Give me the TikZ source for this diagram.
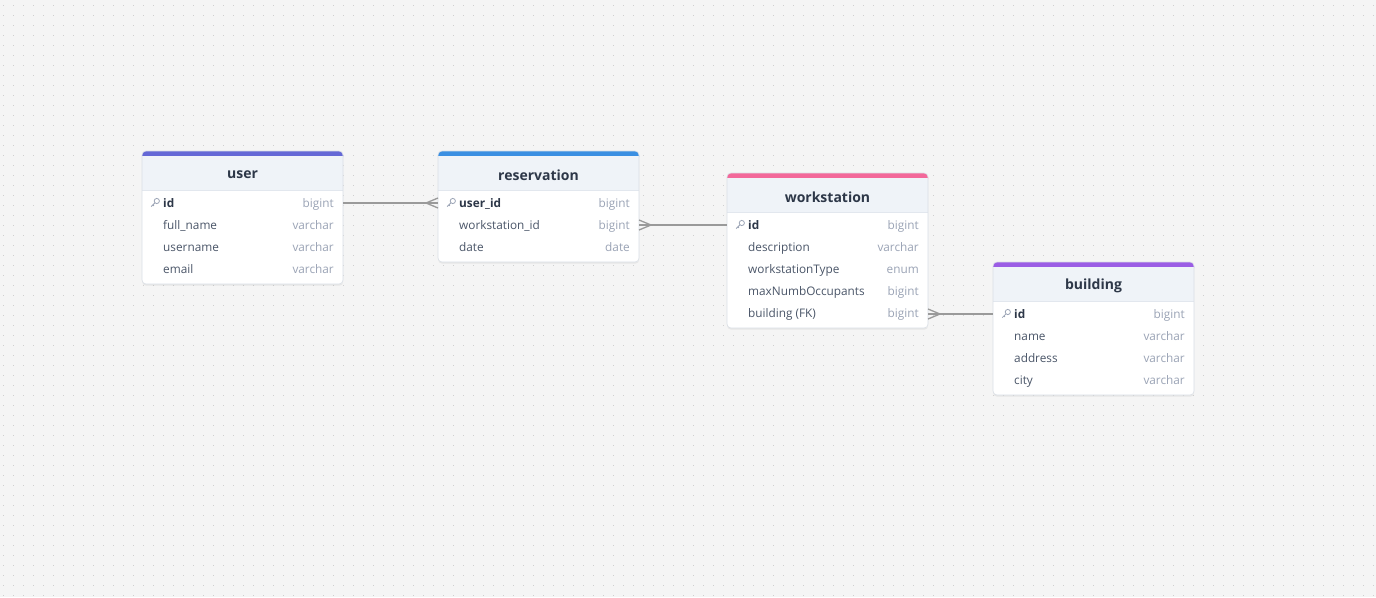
\documentclass[tikz,border=0pt]{standalone}
\usepackage{fontspec}
\setmainfont{Open Sans}
\usetikzlibrary{shadows}
\definecolor{bgcol}{HTML}{F5F5F5}
\definecolor{dotcol}{HTML}{CFCFCF}
\definecolor{headbg}{HTML}{EFF3F8}
\definecolor{bordercol}{HTML}{DADFE6}
\definecolor{sepcol}{HTML}{E2E7EE}
\definecolor{titlecol}{HTML}{2D3748}
\definecolor{fieldcol}{HTML}{4A5568}
\definecolor{typecol}{HTML}{9AA3B5}
\definecolor{linecol}{HTML}{9A9A9A}
\definecolor{usercol}{HTML}{6468D6}
\definecolor{rescol}{HTML}{3A8FE2}
\definecolor{wscol}{HTML}{F3689A}
\definecolor{bldcol}{HTML}{9B5DE5}
\tikzset{
  tablebox/.style={anchor=north west, fill=white, draw=none, rounded corners=4pt,
     minimum width=201pt, inner sep=0pt,
     drop shadow={shadow xshift=0pt, shadow yshift=-1.5pt, opacity=0.12}},
  titletext/.style={font=\fontsize{14}{16}\selectfont\bfseries, text=titlecol, inner sep=0pt},
  fieldtext/.style={anchor=west, font=\fontsize{11.8}{14}\selectfont, text=fieldcol, inner sep=0pt, text height=8.5pt, text depth=2.5pt},
  typetext/.style={anchor=east, font=\fontsize{11.8}{14}\selectfont, text=typecol, inner sep=0pt, text height=8.5pt, text depth=2.5pt},
  rel/.style={draw=linecol, line width=1.3pt},
}
\newcommand{\keyicon}[2]{%
  \draw[typecol, line width=0.8pt] (#1+2.3,-#2+2) circle (2.6pt);
  \draw[typecol, line width=0.8pt] (#1+0.5,-#2+0.2) -- (#1-3.3,-#2-3.6);
  \draw[typecol, line width=0.8pt] (#1-1.6,-#2-1.9) -- (#1-0.6,-#2-2.9);
}
\newcommand{\ertable}[7]{%
  \pgfmathsetmacro\tR{#2+201}
  \pgfmathsetmacro\tB{#3+45+22*#7}
  \node[tablebox, minimum height={45+22*#7}] (#1) at (#2,-#3) {};
  \fill[#4, rounded corners=4pt] (#2,-#3) rectangle (\tR,-#3-10);
  \fill[headbg] (#2,-#3-5) rectangle (\tR,-#3-39);
  \draw[sepcol, line width=0.8pt] (#2,-#3-39) -- (\tR,-#3-39);
  \draw[bordercol, line width=0.6pt, rounded corners=4pt] (#2,-#3) rectangle (\tR,-\tB);
  \node[titletext] (#1-title) at (#2+100.5,-#3-24) {#5};
  \foreach \f/\t/\k [count=\i] in {#6} {
    \pgfmathsetmacro\yy{#3+52+22*(\i-1)}
    \node[fieldtext] (#1-f\i) at (#2+21,-\yy-1.2) {\ifnum\k=1 \bfseries\color{titlecol}\fi\f};
    \node[typetext] (#1-t\i) at (\tR-9,-\yy-1.2) {\t};
    \coordinate (#1-w\i) at (#2,-\yy);
    \coordinate (#1-e\i) at (\tR,-\yy);
    \ifnum\k=1 \keyicon{#2+12.5}{\yy}\fi
  }
}
\begin{document}
\begin{tikzpicture}[x=1pt,y=1pt]
\fill[bgcol] (0,0) rectangle (1376,-597);
\useasboundingbox (0,0) rectangle (1376,-597);
\foreach \yy in {5,15,...,595} {
  \draw[dotcol, line width=1pt, dash pattern=on 1pt off 9pt] (3,-\yy) -- (1376,-\yy);
}
\ertable{user}{142}{151}{usercol}{user}{id/bigint/1, full\_name/varchar/0, username/varchar/0, email/varchar/0}{4}
\ertable{reservation}{438}{151}{rescol}{reservation}{user\_id/bigint/1, workstation\_id/bigint/0, date/date/0}{3}
\ertable{workstation}{727}{173}{wscol}{workstation}{id/bigint/1, description/varchar/0, workstationType/enum/0, maxNumbOccupants/bigint/0, building (FK)/bigint/0}{5}
\ertable{building}{993}{262}{bldcol}{building}{id/bigint/1, name/varchar/0, address/varchar/0, city/varchar/0}{4}
\coordinate (wsfk) at (workstation-e5 |- building-w1);
% relations
\draw[rel] (user-e1) -- (reservation-w1);
\draw[rel] ([yshift=5pt]reservation-w1) -- ([xshift=-12pt]reservation-w1) -- ([yshift=-5pt]reservation-w1);
\draw[rel] (reservation-e2) -- (workstation-w1);
\draw[rel] ([yshift=5pt]reservation-e2) -- ([xshift=12pt]reservation-e2) -- ([yshift=-5pt]reservation-e2);
\draw[rel] (wsfk) -- (building-w1);
\draw[rel] ([yshift=5pt]wsfk) -- ([xshift=12pt]wsfk) -- ([yshift=-5pt]wsfk);
\end{tikzpicture}
\end{document}
